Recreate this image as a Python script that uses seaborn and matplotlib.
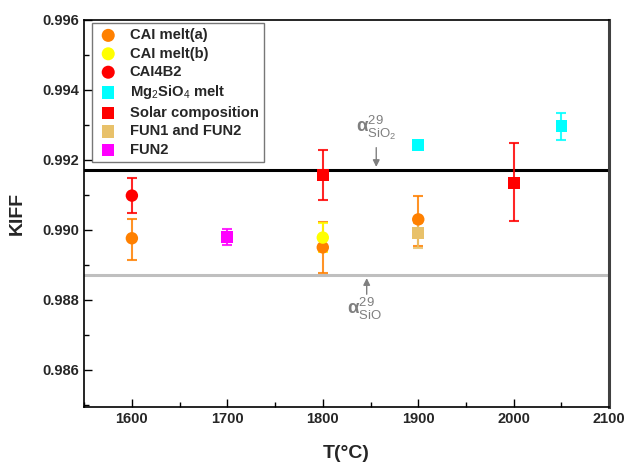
import numpy as np
import pandas as pd
import matplotlib
matplotlib.use("Agg")
import matplotlib.pyplot as plt
import seaborn as sns
from matplotlib.ticker import MultipleLocator

sns.set_theme(style="white")
plt.rcParams['font.family'] = ['Liberation Sans', 'DejaVu Sans']
plt.rcParams['mathtext.fontset'] = 'custom'
plt.rcParams['mathtext.rm'] = 'Liberation Sans'
plt.rcParams['mathtext.bf'] = 'Liberation Sans:bold'

# ---- data ----
series_names = ["CAI melt(a)", "CAI melt(b)", "CAI4B2", "Mg$_2$SiO$_4$ melt",
                "Solar composition", "FUN1 and FUN2", "FUN2"]
series_colors = ["#ff8000", "#ffff00", "#ff0000", "#00ffff", "#ff0000", "#e8c16a", "#ff00ff"]
series_markers = ["o", "o", "o", "s", "s", "s", "s"]

cai_a_T = [1600, 1800, 1900]
cai_a_K = [0.98976, 0.98950, 0.99030]
cai_a_lo = [0.98915, 0.98878, 0.98955]
cai_a_hi = [0.99030, 0.99023, 0.99098]

cai_b_T = [1800]
cai_b_K = [0.98978]
cai_b_lo = [0.98938]
cai_b_hi = [0.99020]

cai4b2_T = [1600]
cai4b2_K = [0.99098]
cai4b2_lo = [0.99047]
cai4b2_hi = [0.99148]

mg_T = [1900, 2050]
mg_K = [0.99243, 0.99297]
mg_lo = [0.99243, 0.99257]
mg_hi = [0.99243, 0.99335]

solar_T = [1800, 2000]
solar_K = [0.99157, 0.99133]
solar_lo = [0.99084, 0.99024]
solar_hi = [0.99228, 0.99248]

fun12_T = [1900]
fun12_K = [0.98990]
fun12_lo = [0.98947]
fun12_hi = [0.99020]

fun2_T = [1700]
fun2_K = [0.98980]
fun2_lo = [0.98958]
fun2_hi = [0.99002]

alpha_SiO2 = 0.99172
alpha_SiO = 0.98870

all_T = [cai_a_T, cai_b_T, cai4b2_T, mg_T, solar_T, fun12_T, fun2_T]
all_K = [cai_a_K, cai_b_K, cai4b2_K, mg_K, solar_K, fun12_K, fun2_K]
all_lo = [cai_a_lo, cai_b_lo, cai4b2_lo, mg_lo, solar_lo, fun12_lo, fun2_lo]
all_hi = [cai_a_hi, cai_b_hi, cai4b2_hi, mg_hi, solar_hi, fun12_hi, fun2_hi]

fig, ax = plt.subplots(figsize=(6.28, 4.65), dpi=100)
fig.subplots_adjust(left=0.134, right=0.970, top=0.957, bottom=0.125)

ax.axhline(alpha_SiO2, color="black", lw=2.2, zorder=1)
ax.axhline(alpha_SiO, color="#bfbfbf", lw=2.2, zorder=1)

# error bars
draw_order = [2, 4, 0, 5, 1, 6, 3]
for i in draw_order:
    T = np.array(all_T[i]); K = np.array(all_K[i])
    lo = K - np.array(all_lo[i]); hi = np.array(all_hi[i]) - K
    ec = series_colors[i]
    ax.errorbar(T, K, yerr=[lo, hi], fmt="none", ecolor=ec, elinewidth=1.5,
                capsize=3.6, capthick=1.5, alpha=0.85, zorder=2)

frames = []
for i in range(len(series_names)):
    frames.append(pd.DataFrame({"T": all_T[i], "K": all_K[i], "series": series_names[i]}))
df = pd.concat(frames, ignore_index=True)

for i in range(len(series_names)):
    sub = df[df["series"] == series_names[i]]
    sz = 80 if series_markers[i] == "o" else 72
    sns.scatterplot(data=sub, x="T", y="K", color=series_colors[i], marker=series_markers[i],
                    s=sz, edgecolor="none", label=series_names[i], ax=ax, zorder=3)

ax.set_xlim(1550, 2100)
ax.set_ylim(0.98494, 0.996)
ax.xaxis.set_major_locator(MultipleLocator(100))
ax.xaxis.set_minor_locator(MultipleLocator(50))
ax.yaxis.set_major_locator(MultipleLocator(0.002))
ax.yaxis.set_minor_locator(MultipleLocator(0.001))
ax.yaxis.set_major_formatter(matplotlib.ticker.FormatStrFormatter("%.3f"))
ax.tick_params(which="major", direction="in", length=6, width=1, labelsize=10.5, color="black")
ax.tick_params(which="minor", direction="in", length=3.5, width=1, color="black")
ax.tick_params(axis="both", which="both", left=True, bottom=True, top=False, right=False)
for lab in ax.get_xticklabels() + ax.get_yticklabels():
    lab.set_fontweight("bold")
ax.set_xlabel("T(°C)", fontsize=14, fontweight="bold")
ax.set_ylabel("KIFF", fontsize=14, fontweight="bold")
ax.xaxis.set_label_coords(0.5, -0.098)
ax.yaxis.set_label_coords(-0.112, 0.50)

for side in ["left", "bottom", "top"]:
    ax.spines[side].set_color("black")
    ax.spines[side].set_linewidth(1.2)
ax.spines["right"].set_color("#404040")
ax.spines["right"].set_linewidth(2.2)

ax.annotate("", xy=(1856, alpha_SiO2), xytext=(1856, 0.99243),
            arrowprops=dict(arrowstyle="-|>", color="#7f7f7f", lw=1, mutation_scale=10))
ax.text(1856, 0.99250, r"$\mathbf{\alpha}^{29}_{\mathrm{SiO_2}}$", color="#7f7f7f",
        fontsize=13.5, ha="center", va="bottom")
ax.annotate("", xy=(1846, alpha_SiO), xytext=(1846, 0.98808),
            arrowprops=dict(arrowstyle="-|>", color="#7f7f7f", lw=1, mutation_scale=10))
ax.text(1844, 0.98773, r"$\mathbf{\alpha}^{29}_{\mathrm{SiO}}$", color="#7f7f7f",
        fontsize=13.5, ha="center", va="center")

leg = ax.legend(loc="upper left", bbox_to_anchor=(0.015, 0.992), borderaxespad=0,
                frameon=True, fancybox=False,
                edgecolor="#555555", fontsize=10.6, handletextpad=0.7, borderpad=0.35,
                labelspacing=0.3, handlelength=1.5, markerscale=1.05)
leg.get_frame().set_linewidth(1)
for t in leg.get_texts():
    t.set_fontweight("bold")

fig.savefig("out.png", dpi=100)
